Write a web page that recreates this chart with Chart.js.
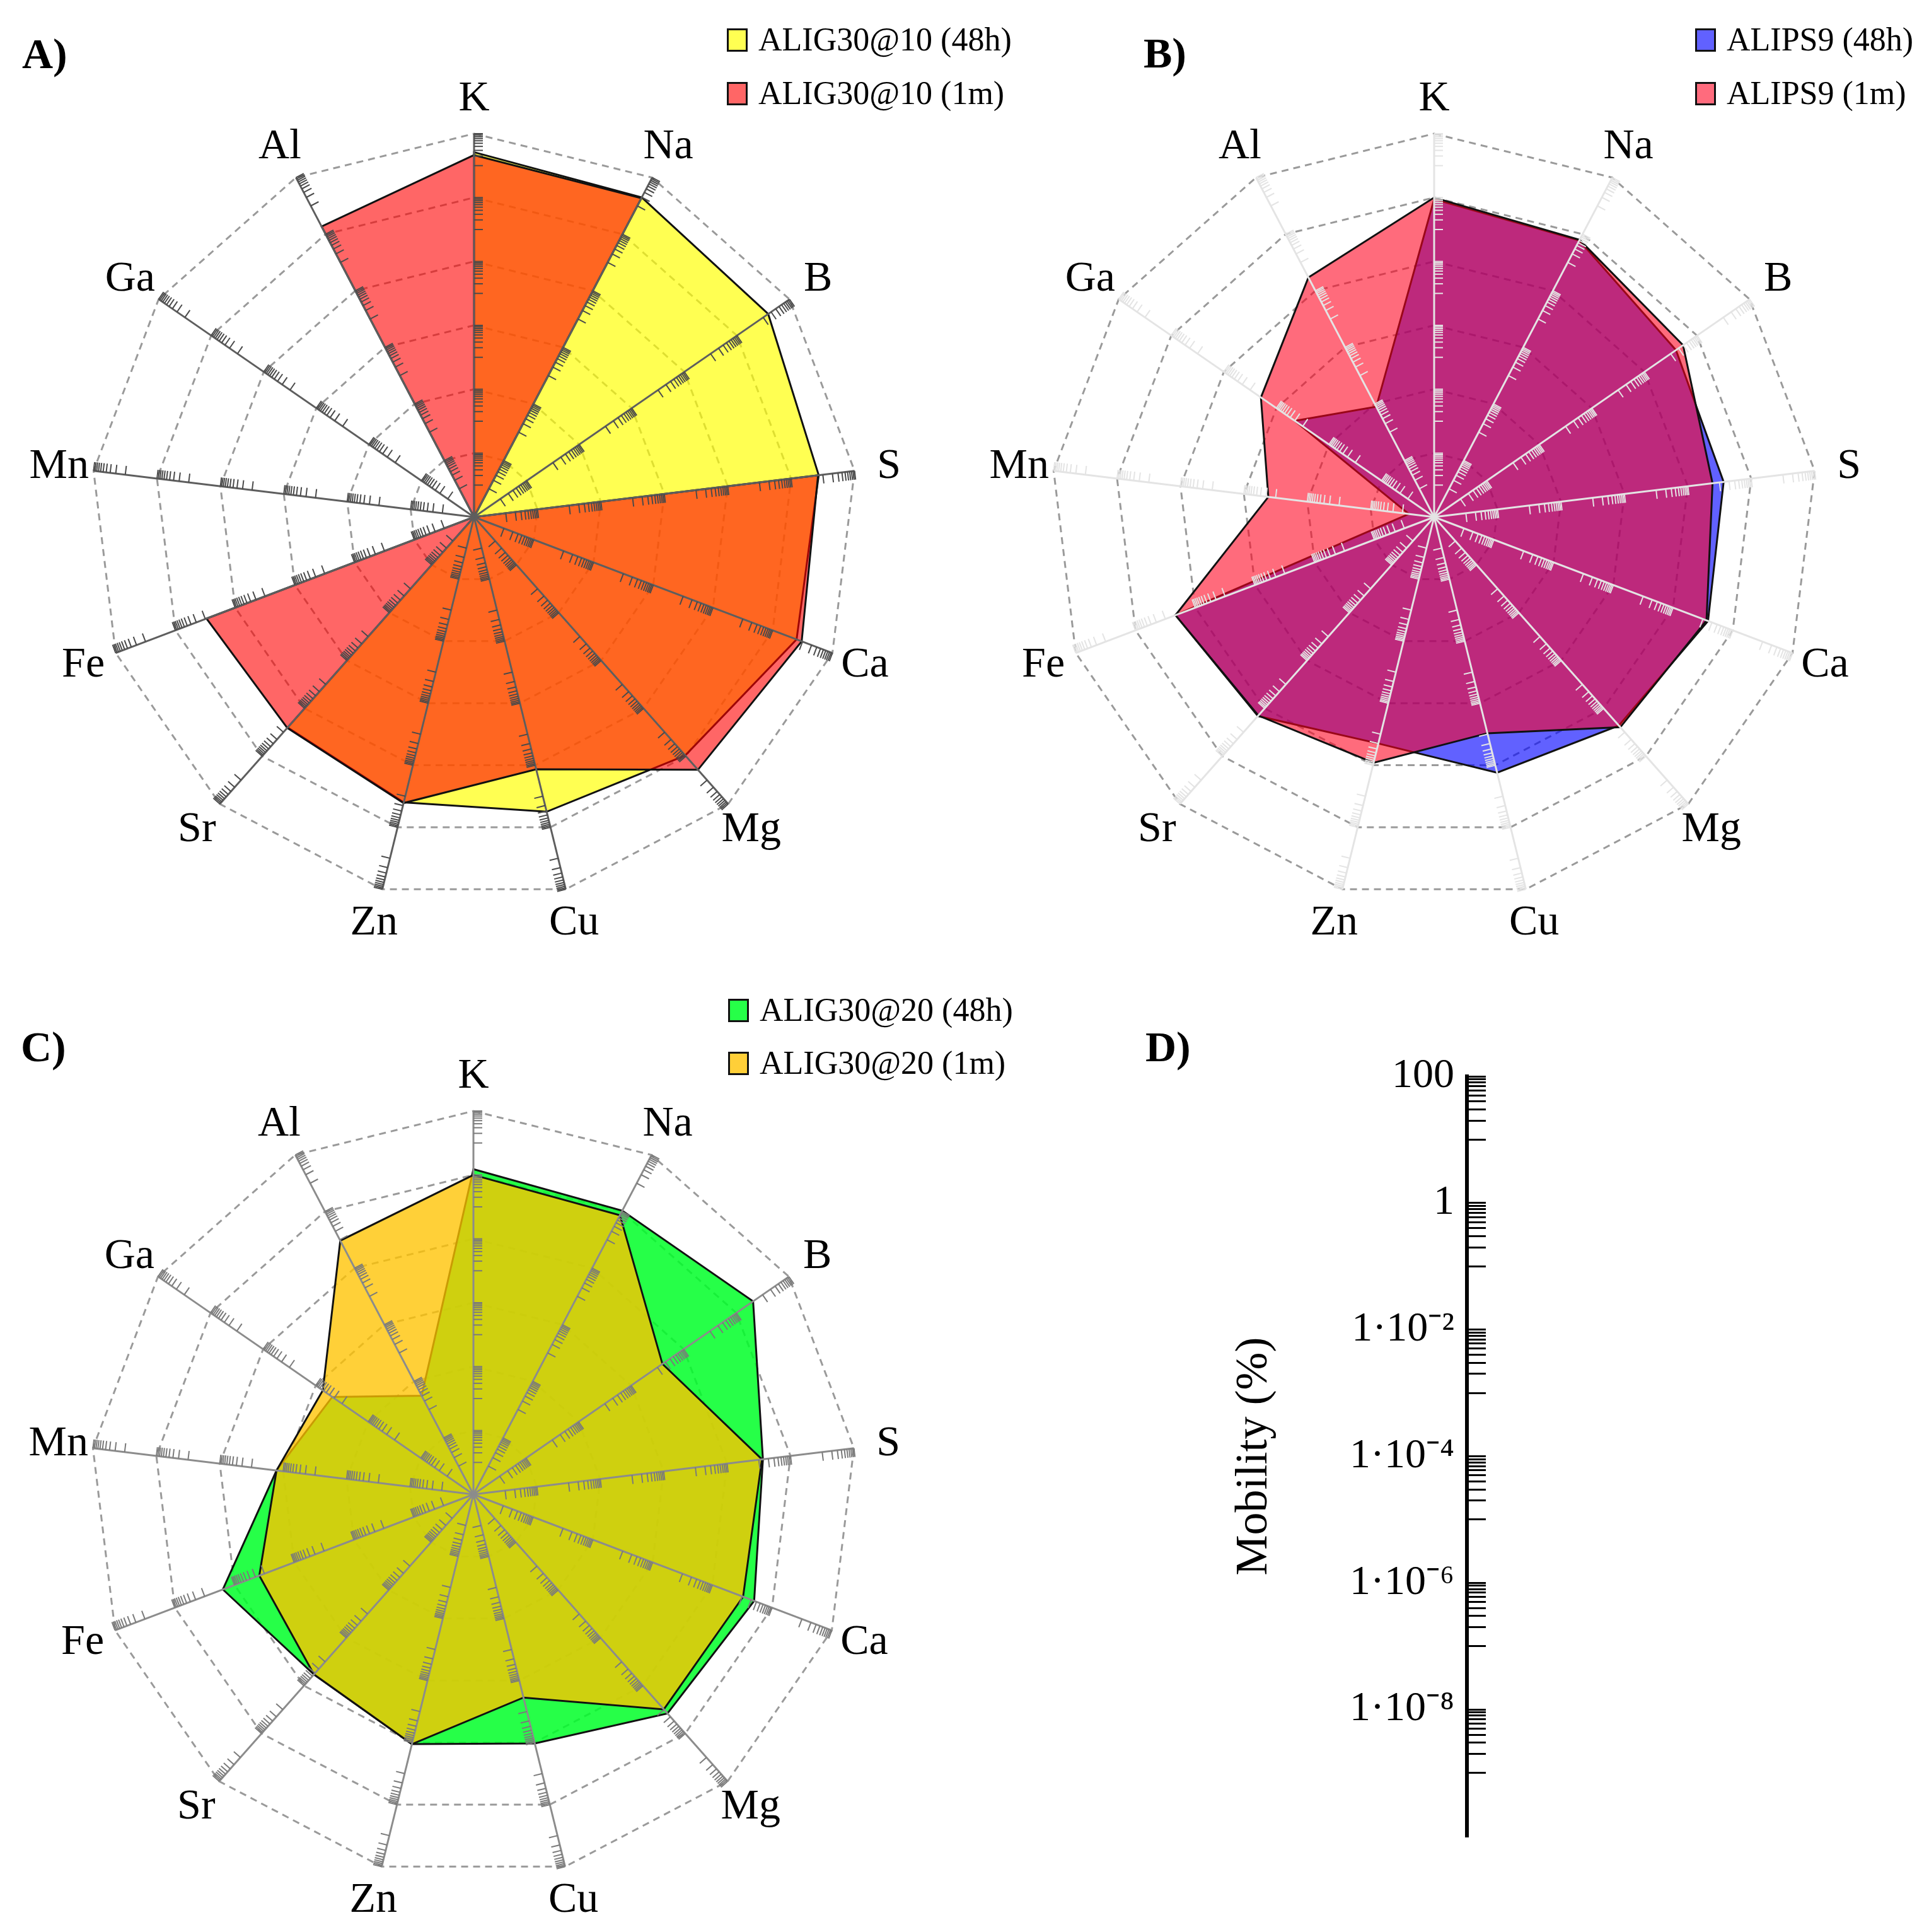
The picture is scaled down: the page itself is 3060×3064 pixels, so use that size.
<!DOCTYPE html>
<html><head><meta charset="utf-8">
<script src="https://cdn.jsdelivr.net/npm/chart.js@4.4.1/dist/chart.umd.min.js"></script>
<style>
html,body{margin:0;padding:0;background:#fff;}
body{width:3060px;height:3064px;position:relative;overflow:hidden;font-family:"Liberation Serif",serif;color:#000;}
canvas{position:absolute;}
.lab{position:absolute;font-weight:bold;font-size:68px;line-height:1;}
.leg{position:absolute;font-size:52px;line-height:52px;height:52px;white-space:nowrap;display:flex;align-items:center;}
.leg i{display:inline-block;width:33px;height:37px;border:3px solid #111;box-sizing:border-box;margin-right:17px;}
</style></head>
<body>
<div class="lab" style="left:35px;top:51px">A)</div>
<div class="lab" style="left:1814px;top:50px">B)</div>
<div class="lab" style="left:33px;top:1626px">C)</div>
<div class="lab" style="left:1817px;top:1626px">D)</div>
<canvas id="cA" width="1530" height="1530" style="left:0;top:0"></canvas>
<canvas id="cB" width="1530" height="1530" style="left:1530px;top:0"></canvas>
<canvas id="cC" width="1530" height="1534" style="left:0;top:1530px"></canvas>
<canvas id="cD" width="424" height="1325" style="left:1943px;top:1647px"></canvas>
<div id="legends"></div>
<script>
// ---- data (log10 of mobility in %) ----
const elements = ['K','Na','B','S','Ca','Mg','Cu','Zn','Sr','Fe','Mn','Ga','Al'];

const alig10_48h = [1.42, 1.30, 1.19, 0.87, 0.80, -0.03, -0.50, -0.80, -1.20, -10, -10, -10, -10];
const alig10_1m  = [1.33, 1.27, -10, 0.85, 0.97, 0.57, -1.87, -0.78, -1.18, -1.04, -10, -10, 0.27];

const alips9_48h = [-0.05, -0.22, -0.80, -0.87, -0.83, -1.28, -1.76, -2.70, -1.68, -1.34, -9.2, -4.70, -6.10];
const alips9_1m  = [0.00, -0.20, -0.53, -1.22, -0.88, -1.21, -3.03, -2.08, -1.70, -1.34, -4.77, -3.41, -1.53];

const alig20_48h = [0.18, 0.03, 0.64, -0.87, -0.60, -0.84, -1.97, -1.95, -2.47, -1.61, -3.79, -4.63, -6.51];
const alig20_1m  = [0.00, -0.13, -2.81, -0.90, -0.97, -1.01, -3.45, -1.95, -2.47, -2.83, -3.79, -4.27, -1.03];

const seriesNames = {
  A: ['ALIG30@10 (48h)', 'ALIG30@10 (1m)'],
  B: ['ALIPS9 (48h)', 'ALIPS9 (1m)'],
  C: ['ALIG30@20 (48h)', 'ALIG30@20 (1m)']
};
const ringValues = [-8, -6, -4, -2, 0, 2];           // log10 rings (1e-8 ... 100)
const majorTickValues = [100, 1, 1e-2, 1e-4, 1e-6, 1e-8];
const majorTickLabels = ['100', '1', '1·10⁻²', '1·10⁻⁴', '1·10⁻⁶', '1·10⁻⁸'];

// ---- styles ----
const colors = {
  A: ['rgba(255,255,0,0.68)', 'rgba(255,0,0,0.60)'],
  B: ['rgba(0,0,255,0.62)', 'rgba(255,0,30,0.58)'],
  C: ['rgba(0,255,40,0.85)', 'rgba(255,195,0,0.78)']
};
const legendSwatch = {
  A: ['#ffff52', '#ff6666'],
  B: ['#6161ff', '#ff6b7d'],
  C: ['#26ff48', '#ffcf38']
};

function decorPlugin(spokeColor, tickColor) {
  return {
    id: 'decor',
    afterDatasetsDraw(chart) {
      const s = chart.scales.r, ctx = chart.ctx;
      const n = chart.data.labels.length;
      ctx.save();
      for (let i = 0; i < n; i++) {
        const c = s.getPointPositionForValue(i, s.min);
        const e = s.getPointPositionForValue(i, s.max);
        ctx.strokeStyle = spokeColor; ctx.lineWidth = 3;
        ctx.beginPath(); ctx.moveTo(c.x, c.y); ctx.lineTo(e.x, e.y); ctx.stroke();
        const a = s.getIndexAngle(i) - Math.PI / 2;
        const px = Math.cos(a + Math.PI / 2), py = Math.sin(a + Math.PI / 2);
        ctx.strokeStyle = tickColor; ctx.lineWidth = 2;
        ringValues.forEach(k => {
          for (let j = 1; j <= 10; j++) {
            const p = s.getPointPositionForValue(i, k - 1 + Math.log10(j));
            ctx.beginPath(); ctx.moveTo(p.x, p.y); ctx.lineTo(p.x + px * 14, p.y + py * 14); ctx.stroke();
          }
        });
      }
      ctx.fillStyle = '#000';
      ctx.font = '68px "Liberation Serif", serif';
      ctx.textAlign = 'center'; ctx.textBaseline = 'middle';
      for (let i = 0; i < n; i++) {
        const p = s.getPointPosition(i, s.drawingArea + 55);
        ctx.fillText(chart.data.labels[i], p.x, p.y);
      }
      ctx.restore();
    }
  };
}

function radar(id, key, d48, d1m, pad, spoke, tick) {
  new Chart(document.getElementById(id), {
    type: 'radar',
    data: {
      labels: elements,
      datasets: [
        {label: seriesNames[key][0], data: d48, backgroundColor: colors[key][0], borderColor: '#111', borderWidth: 3, fill: 'start', order: 2},
        {label: seriesNames[key][1], data: d1m, backgroundColor: colors[key][1], borderColor: '#111', borderWidth: 3, fill: 'start', order: 1}
      ]
    },
    options: {
      responsive: false, animation: false, events: [],
      layout: {padding: pad},
      plugins: {legend: {display: false}, tooltip: {enabled: false}},
      elements: {line: {tension: 0}, point: {radius: 0}},
      scales: {
        r: {
          min: -10, max: 2,
          ticks: {display: false, stepSize: 2},
          grid: {color: '#9a9a9a', lineWidth: 3},
          border: {dash: [11, 8]},
          angleLines: {display: false},
          pointLabels: {display: false}
        }
      }
    },
    plugins: [decorPlugin(spoke, tick)]
  });
}

radar('cA', 'A', alig10_48h, alig10_1m, {left: 144, top: 212, right: 170, bottom: 102}, '#5e5e5e', '#4a4a4a');
radar('cB', 'B', alips9_48h, alips9_1m, {left: 137, top: 212, right: 177, bottom: 102}, '#e4e4e4', '#e4e4e4');
radar('cC', 'C', alig20_48h, alig20_1m, {left: 143, top: 232, right: 171, bottom: 86}, '#8c8c8c', '#7a7a7a');

// legends
const legPos = {A: [1153, 63, 148], B: [2689, 63, 148], C: [1155, 1602, 1686]};
const L = document.getElementById('legends');
Object.keys(legPos).forEach(k => {
  const [x, y1, y2] = legPos[k];
  [y1, y2].forEach((y, idx) => {
    const d = document.createElement('div');
    d.className = 'leg';
    d.style.left = x + 'px'; d.style.top = (y - 26) + 'px';
    const sw = document.createElement('i'); sw.style.background = legendSwatch[k][idx];
    d.appendChild(sw);
    d.appendChild(document.createTextNode(seriesNames[k][idx]));
    L.appendChild(d);
  });
});

// panel D: log axis
const axisTicks = [];
majorTickValues.forEach(m => { for (let j = 1; j <= 10; j++) axisTicks.push(m / 10 * j); });
new Chart(document.getElementById('cD'), {
  type: 'scatter',
  data: {datasets: [{data: []}]},
  options: {
    responsive: false, animation: false, events: [],
    layout: {padding: {top: 60, bottom: 60, left: 0, right: 10}},
    plugins: {legend: {display: false}, tooltip: {enabled: false}},
    scales: {
      x: {display: false, min: 0, max: 1},
      y: {
        type: 'logarithmic', position: 'left', min: 1e-10, max: 100,
        afterFit(s) { s.width = 384; },
        afterBuildTicks(s) { s.ticks = axisTicks.map(v => ({value: v})); },
        ticks: {
          autoSkip: false, padding: 20, color: '#000',
          font: {family: "'Liberation Serif', serif", size: 66},
          callback(v) {
            const i = majorTickValues.findIndex(m => Math.abs(Math.log10(v) - Math.log10(m)) < 1e-6);
            return i >= 0 ? majorTickLabels[i] : '';
          }
        },
        grid: {color: '#000', lineWidth: 3, drawTicks: false, drawOnChartArea: true},
        border: {display: true, color: '#000', width: 6},
        title: {display: true, text: 'Mobility (%)', color: '#000', font: {family: "'Liberation Serif', serif", size: 72}, padding: {top: 4, bottom: 4}}
      }
    }
  }
});
</script>
</body></html>
